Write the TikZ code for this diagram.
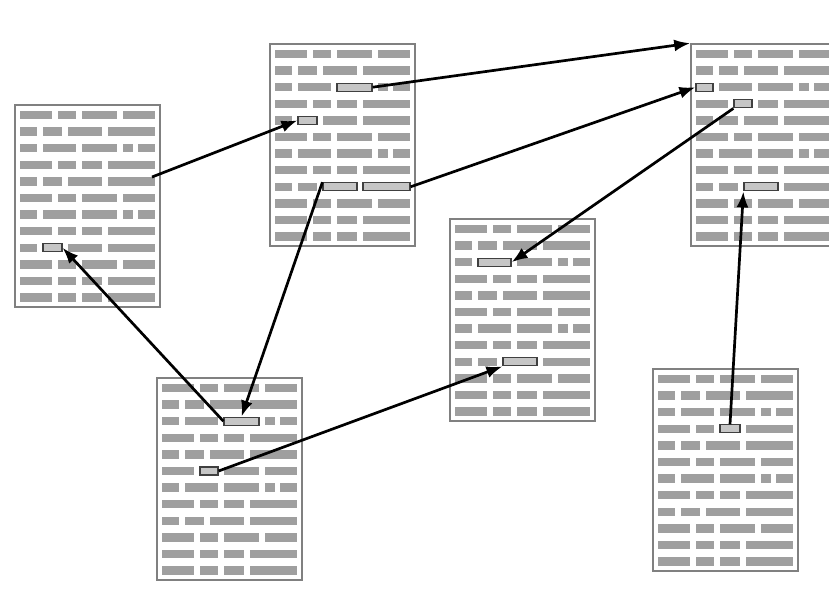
\documentclass[tikz,border=0pt]{standalone}
\usepackage{xcolor}
\usepackage{tikz}
\usetikzlibrary{arrows.meta}
\pgfdeclarelayer{nodelayer}
\pgfdeclarelayer{edgelayer}
\pgfsetlayers{nodelayer,edgelayer,main}
\tikzset{
    page/.style = {draw=black!50, line width=1.6pt, fill=white, minimum width=145, minimum height=202, inner sep=0pt},
    bar/.style = {fill=gray!75},
    link/.style = {draw=black!75, fill=gray!45, line width=1.2pt, minimum height=8, inner sep=0pt},
    jump/.style = {line width=2.7pt, -{Latex[length=16pt,width=12pt]}}
}
% text lines of one page, from its top left corner
\newcommand{\pagebars}[2]{
    \foreach \segs [count=\r from 0] in {
        {0/32,38/56,62/97,103/135},
        {0/17,23/42,48/82,88/135},
        {0/17,23/56,62/97,103/113,118/135},
        {0/32,38/56,62/82,88/135},
        {0/17,23/42,48/82,88/135},
        {0/32,38/56,62/97,103/135},
        {0/17,23/56,62/97,103/113,118/135},
        {0/32,38/56,62/82,88/135},
        {0/17,23/42,48/82,88/135},
        {0/32,38/56,62/97,103/135},
        {0/32,38/56,62/82,88/135},
        {0/32,38/56,62/82,88/135}}{
        \foreach \a/\b in \segs
            \fill [style=bar] (#1+5+\a, #2+5.8+\r*16.6) rectangle (#1+5+\b, #2+14.2+\r*16.6);
    }
}
\begin{document}
\begin{tikzpicture}[x=1pt, y=-1pt]
    \useasboundingbox (0, 0) rectangle (829, 606);
    \begin{pgfonlayer}{nodelayer}
        % pages
        \node [style=page] (pa) at (87.5, 206) {};
        \node [style=page] (pb) at (342.5, 145) {};
        \node [style=page] (pc) at (763.5, 145) {};
        \node [style=page] (pd) at (522.5, 320) {};
        \node [style=page] (pe) at (229.5, 479) {};
        \node [style=page] (pf) at (725.5, 470) {};
        \pagebars{15}{105}
        \pagebars{270}{44}
        \pagebars{691}{44}
        \pagebars{450}{219}
        \pagebars{157}{378}
        \pagebars{653}{369}
        % link anchors
        \node [style=link, minimum width=19] (1) at (52.5, 247.8) {};
        \node [style=link, minimum width=35] (2) at (354.5, 87.2) {};
        \node [style=link, minimum width=19] (3) at (307.5, 120.4) {};
        \node [style=link, minimum width=34] (4) at (340, 186.8) {};
        \node [style=link, minimum width=47] (5) at (386.5, 186.8) {};
        \node [style=link, minimum width=17] (6) at (704.5, 87.2) {};
        \node [style=link, minimum width=18] (7) at (743, 103.8) {};
        \node [style=link, minimum width=34] (8) at (761, 186.8) {};
        \node [style=link, minimum width=33] (9) at (494.5, 262.2) {};
        \node [style=link, minimum width=34] (10) at (520, 361.8) {};
        \node [style=link, minimum width=35] (11) at (241.5, 421.2) {};
        \node [style=link, minimum width=18] (12) at (209, 471) {};
        \node [style=link, minimum width=20] (13) at (730, 428.8) {};
        \coordinate (0) at (152, 177);
    \end{pgfonlayer}
    \begin{pgfonlayer}{edgelayer}
        \draw [style=jump] (0) -- (3.west);
        \draw [style=jump] (2.east) -- (pc.north west);
        \draw [style=jump] (5.east) -- (6.west);
        \draw [style=jump] (7.south west) -- (9.east);
        \draw [style=jump] (4.north west) -- (11.north);
        \draw [style=jump] (11.west) -- (1.east);
        \draw [style=jump] (12.east) -- (10.south west);
        \draw [style=jump] (13.north) -- (8.south west);
    \end{pgfonlayer}
\end{tikzpicture}
\end{document}
